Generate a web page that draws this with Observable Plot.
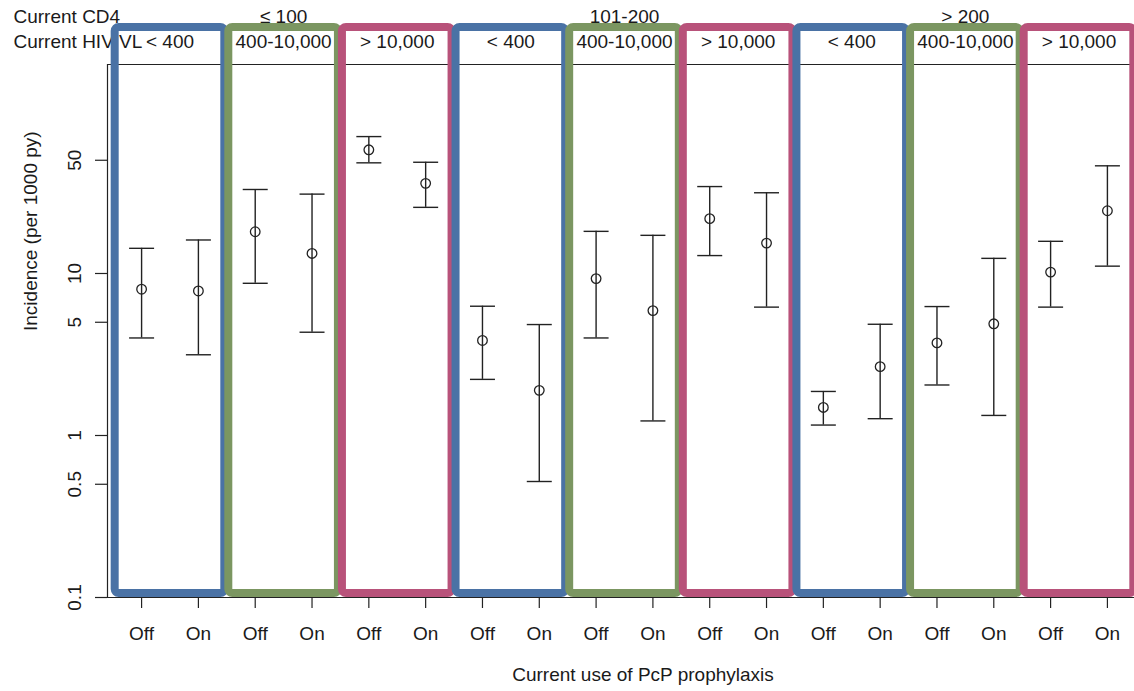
<!DOCTYPE html>
<html><head><meta charset="utf-8">
<script src="https://cdn.jsdelivr.net/npm/d3@7"></script>
<script src="https://cdn.jsdelivr.net/npm/@observablehq/plot@0.6"></script>
<style>
html,body{margin:0;padding:0;background:#fff;overflow:hidden;}
#chart svg{overflow:hidden;display:block}
</style></head><body><div id="chart"></div>
<script>
// ---- data ----
const cd4Groups = ["≤ 100", "101-200", "> 200"];
const vlGroups = ["< 400", "400-10,000", "> 10,000"];
const prophylaxis = ["Off", "On"];
const estimate = [8.0, 7.8, 18.1, 13.3, 58, 36, 3.86, 1.90, 9.3, 5.9, 21.8, 15.4, 1.49, 2.66, 3.73, 4.89, 10.2, 24.4];
const lower    = [4.0, 3.15, 8.7, 4.34, 48.2, 25.6, 2.22, 0.52, 4.0, 1.23, 12.9, 6.2, 1.16, 1.27, 2.05, 1.33, 6.2, 11.1];
const upper    = [14.3, 16.1, 33, 30.9, 70, 48.6, 6.28, 4.84, 18.2, 17.2, 34.4, 31.5, 1.87, 4.86, 6.25, 12.4, 15.8, 46.2];
const yTicks = [0.1, 0.5, 1, 5, 10, 50];
const yTickLabels = ["0.1", "0.5", "1", "5", "10", "50"];
const yDomain = [0.1, 195];
const xDomain = [-0.6, 17.6];

// ---- tables built from the arrays ----
const rows = [];
const groups = [];
cd4Groups.forEach((cd4, c) => {
  vlGroups.forEach((vl, v) => {
    const g = c * vlGroups.length + v;
    groups.push({cd4, vl, g, x1: 2 * g - 0.5, x2: 2 * g + 1.5, center: 2 * g + 0.5});
    prophylaxis.forEach((p, k) => {
      const i = g * 2 + k;
      rows.push({i, cd4, vl, p, est: estimate[i], lo: lower[i], hi: upper[i]});
    });
  });
});
const cd4Labels = cd4Groups.map((cd4) => {
  const gs = groups.filter(d => d.cd4 === cd4);
  return {cd4, center: d3.mean(gs, d => d.center)};
});
const yLabelRows = yTicks.map((v, k) => ({v, label: yTickLabels[k]}));

const capSymbol = {draw(ctx, size) { const w = Math.sqrt(size / Math.PI); ctx.moveTo(-w, 0); ctx.lineTo(w, 0); }};
const ink = "#222";

const chart = Plot.plot({
  width: 1134, height: 691,
  marginLeft: 107, marginRight: 0, marginTop: 64, marginBottom: 94,
  style: {fontFamily: "'Liberation Sans', Arial, sans-serif", fontSize: "19px", color: "#1a1a1a", background: "transparent", overflow: "hidden"},
  x: {type: "linear", domain: xDomain, range: [107, 1141]},
  y: {type: "log", domain: yDomain},
  color: {domain: vlGroups, range: ["#4a72a5", "#7b9661", "#b8527a"]},
  marks: [
    Plot.ruleY(yDomain, {stroke: ink, strokeWidth: 1.2}),
    Plot.ruleX([xDomain[0]], {stroke: ink, strokeWidth: 1.2}),
    Plot.axisY({ticks: yTicks, tickSize: 12, text: null, label: null, stroke: ink, strokeWidth: 1.2}),
    Plot.text(yLabelRows, {y: "v", text: "label", frameAnchor: "left", dx: -27, rotate: -90,
      textAnchor: "middle", lineAnchor: "bottom", fill: "#1a1a1a"}),
    Plot.axisX({ticks: d3.range(rows.length), tickFormat: i => rows[i].p, tickSize: 11, tickPadding: 18,
      label: null, stroke: ink, strokeWidth: 1.2}),
    Plot.text(["Incidence (per 1000 py)"], {frameAnchor: "left", dx: -77, rotate: -90}),
    Plot.text(["Current use of PcP prophylaxis"], {frameAnchor: "bottom", dx: 22, dy: 83}),
    // header rows
    Plot.text(["Current CD4"], {frameAnchor: "top-left", dx: -94, dy: -42, textAnchor: "start", lineAnchor: "bottom"}),
    Plot.text(["Current HIV VL"], {frameAnchor: "top-left", dx: -94, dy: -17, textAnchor: "start", lineAnchor: "bottom"}),
    Plot.text(cd4Labels, {x: "center", text: "cd4", frameAnchor: "top", dy: -42, lineAnchor: "bottom"}),
    Plot.text(groups, {x: "center", text: "vl", frameAnchor: "top", dy: -17, lineAnchor: "bottom"}),
    // error bars
    Plot.ruleX(rows, {x: "i", y1: "lo", y2: "hi", stroke: ink, strokeWidth: 1.4}),
    Plot.dot(rows, {x: "i", y: "hi", symbol: capSymbol, r: 12.5, stroke: ink, strokeWidth: 1.4}),
    Plot.dot(rows, {x: "i", y: "lo", symbol: capSymbol, r: 12.5, stroke: ink, strokeWidth: 1.4}),
    Plot.dot(rows, {x: "i", y: "est", r: 4.8, stroke: ink, fill: "none", strokeWidth: 1.3}),
    // coloured group boxes
    Plot.rect(groups, {x1: "x1", x2: "x2", stroke: "vl", fill: "none", strokeWidth: 8, rx: 4,
      insetLeft: 2, insetRight: 2, insetTop: -37, insetBottom: 4})
  ]
});
document.getElementById("chart").appendChild(chart);
</script></body></html>
